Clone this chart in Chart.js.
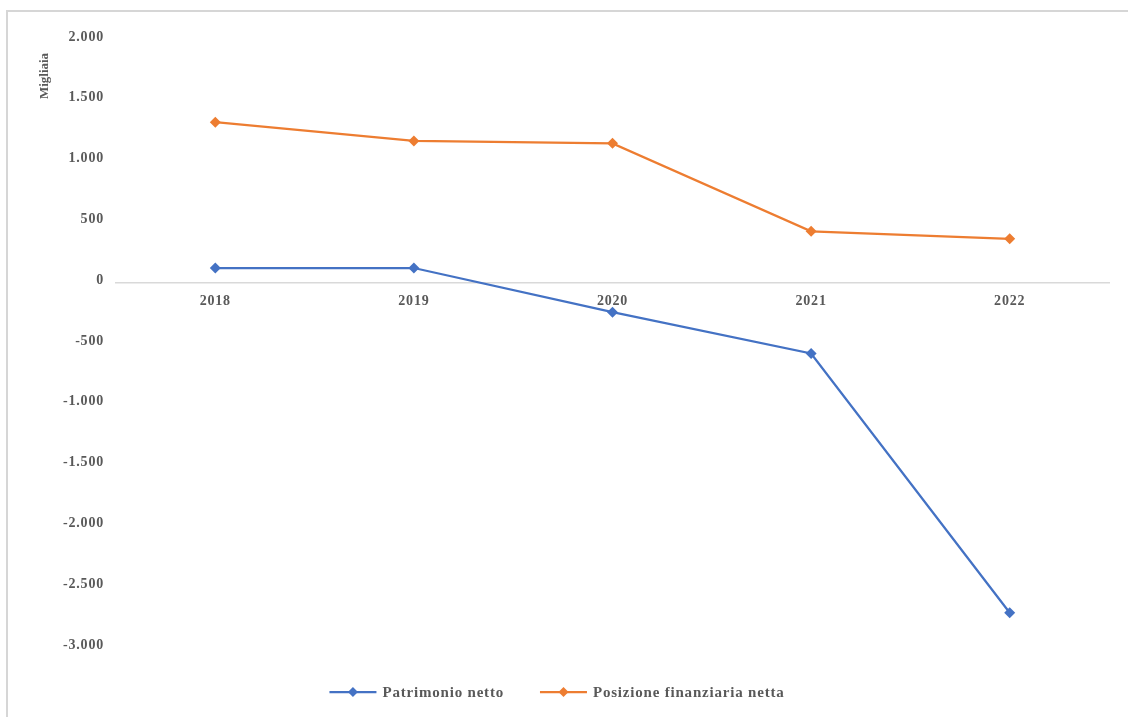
<!DOCTYPE html>
<html>
<head>
<meta charset="utf-8">
<script src="https://cdn.jsdelivr.net/npm/chart.js@4/dist/chart.umd.min.js"></script>
<style>
  html, body { margin: 0; padding: 0; background: #ffffff; overflow: hidden; }
  #frame {
    position: absolute; left: 6px; top: 10px; width: 1300px; height: 900px;
    border-left: 2px solid #d6d6d6; border-top: 2px solid #d6d6d6;
  }
  #wrap { position: absolute; left: 0; top: 0; width: 1128px; height: 717px; }
</style>
</head>
<body>
<div id="frame"></div>
<div id="wrap"><canvas id="chart" width="1128" height="717"></canvas></div>
<script>
// Anni
const years = ['2018', '2019', '2020', '2021', '2022'];
// Valori in migliaia di euro
const patrimonioNetto = [125, 125, -238, -578, -2710];
const posizioneFinanziariaNetta = [1324, 1170, 1150, 427, 365];
const seriesNames = ['Patrimonio netto', 'Posizione finanziaria netta'];
const seriesColors = ['#4472C4', '#ED7D31'];
const axisTitle = 'Migliaia';

const FONT = '"Liberation Serif", "Times New Roman", serif';
const TEXT = '#595959';

// Formato italiano: separatore delle migliaia "."
function fmt(v) {
  const s = Math.abs(v).toString().replace(/\B(?=(\d{3})+(?!\d))/g, '.');
  return (v < 0 ? '-' : '') + s;
}

// Spaziatura dei caratteri per le etichette degli assi
const spacing = {
  id: 'spacing',
  beforeUpdate(chart) { chart.ctx.letterSpacing = '0.8px'; },
  beforeDraw(chart) { chart.ctx.letterSpacing = '0.8px'; }
};

// Legenda in basso: linea con marcatore a rombo + etichetta
const lineLegend = {
  id: 'lineLegend',
  afterDraw(chart) {
    const ctx = chart.ctx;
    ctx.save();
    ctx.font = 'bold 15px ' + FONT;
    ctx.letterSpacing = '0.8px';
    const lineLen = 47, gapText = 6, gapItem = 36;
    const items = chart.data.datasets.map(ds => ({
      label: ds.label, color: ds.borderColor, w: ctx.measureText(ds.label).width
    }));
    const total = items.reduce((a, it) => a + lineLen + gapText + it.w, 0) + gapItem * (items.length - 1);
    let x = 557 - total / 2;
    const y = 692;
    items.forEach(it => {
      ctx.strokeStyle = it.color;
      ctx.lineWidth = 2.25;
      ctx.beginPath(); ctx.moveTo(x, y); ctx.lineTo(x + lineLen, y); ctx.stroke();
      const cx = x + lineLen / 2, r = 5;
      ctx.fillStyle = it.color;
      ctx.beginPath();
      ctx.moveTo(cx, y - r); ctx.lineTo(cx + r, y); ctx.lineTo(cx, y + r); ctx.lineTo(cx - r, y);
      ctx.closePath(); ctx.fill();
      ctx.fillStyle = TEXT;
      ctx.textBaseline = 'middle';
      ctx.textAlign = 'left';
      ctx.fillText(it.label, x + lineLen + gapText, y + 1);
      x += lineLen + gapText + it.w + gapItem;
    });
    ctx.restore();
  }
};

// Titolo dell'asse verticale, ruotato
const yTitle = {
  id: 'yTitle',
  afterDraw(chart) {
    const ctx = chart.ctx;
    ctx.save();
    ctx.letterSpacing = '0px';
    ctx.translate(45, 76);
    ctx.rotate(-Math.PI / 2);
    ctx.font = 'bold 13px ' + FONT;
    ctx.fillStyle = TEXT;
    ctx.textAlign = 'center';
    ctx.textBaseline = 'middle';
    ctx.fillText(axisTitle, 0, 0);
    ctx.restore();
  }
};

const mkDataset = (i, data) => ({
  label: seriesNames[i],
  data: data,
  borderColor: seriesColors[i],
  backgroundColor: seriesColors[i],
  borderWidth: 2.25,
  pointStyle: 'rectRot',
  pointRadius: 5.5,
  pointBorderWidth: 0,
  pointBackgroundColor: seriesColors[i],
  tension: 0
});

new Chart(document.getElementById('chart'), {
  type: 'line',
  data: {
    labels: years,
    datasets: [mkDataset(0, patrimonioNetto), mkDataset(1, posizioneFinanziariaNetta)]
  },
  options: {
    responsive: false,
    animation: false,
    layout: { padding: { left: 0, right: 19, top: 40, bottom: 69 } },
    plugins: { legend: { display: false }, tooltip: { enabled: false } },
    scales: {
      x: {
        position: { y: 0 },
        offset: true,
        grid: { display: false, drawTicks: false },
        border: { display: true, color: '#d9d9d9', width: 1.5 },
        ticks: { color: TEXT, font: { family: FONT, size: 14, weight: 'bold' }, padding: 10, maxRotation: 0 }
      },
      y: {
        min: -3000, max: 2000,
        afterFit(scale) { scale.width = 116; },
        grid: { display: false, drawTicks: false },
        border: { display: false },
        ticks: {
          stepSize: 500,
          color: TEXT,
          font: { family: FONT, size: 14, weight: 'bold' },
          padding: 12,
          labelOffset: -3,
          callback: v => fmt(v)
        }
      }
    }
  },
  plugins: [spacing, lineLegend, yTitle]
});
</script>
</body>
</html>
